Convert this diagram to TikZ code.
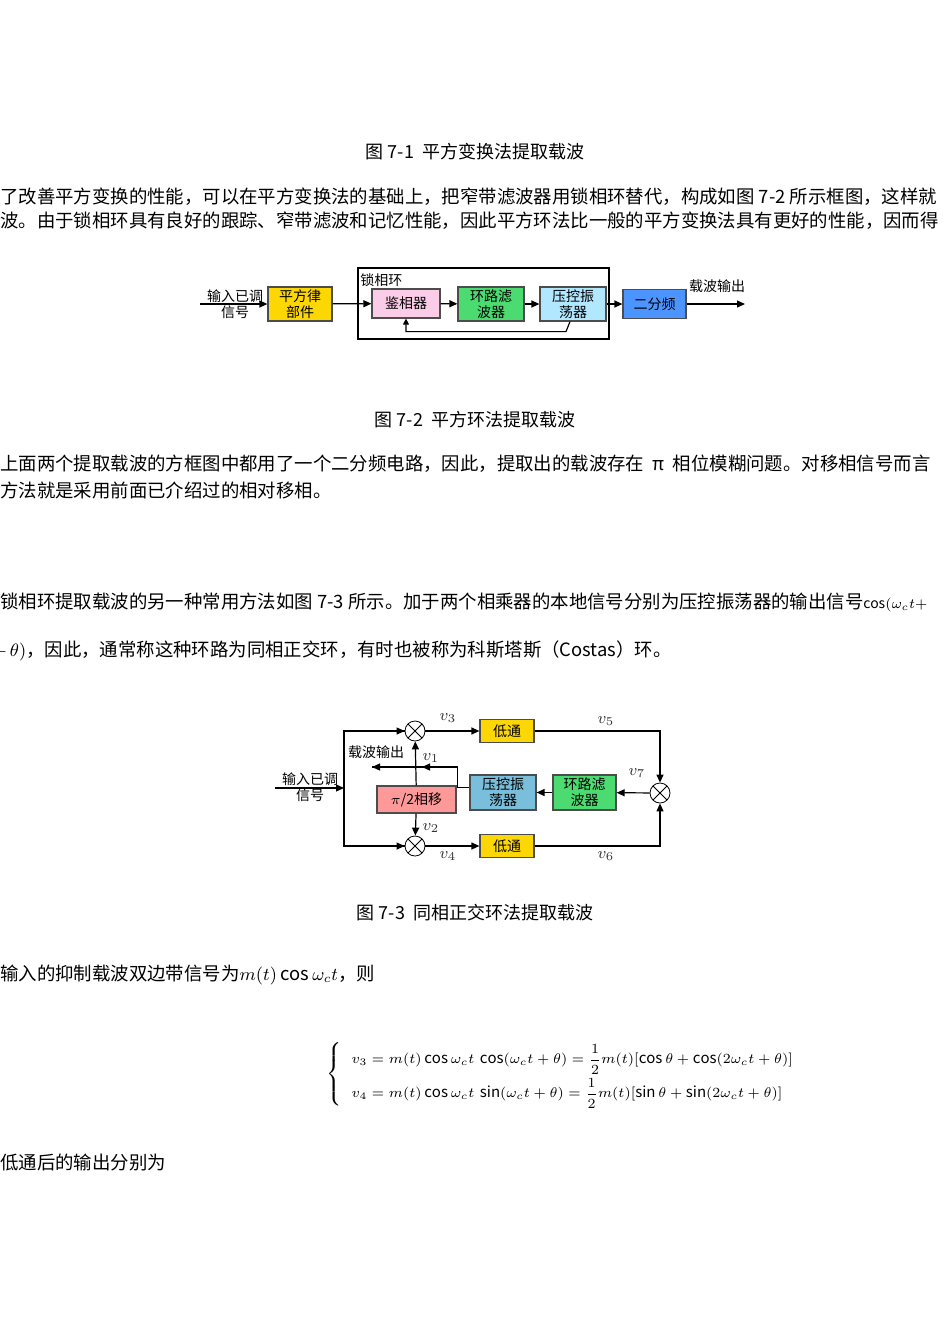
\documentclass[tikz,border=0pt]{standalone}
\usepackage{amsmath}
\usepackage{fontspec}
\setmainfont{Noto Sans CJK SC}
\usetikzlibrary{arrows.meta}
\begin{document}
\begin{tikzpicture}[x=0.5pt,y=-0.5pt,
  txt/.style={font=\fontsize{9.2}{11}\selectfont,anchor=west,inner sep=0},
  captxt/.style={font=\fontsize{9}{11}\selectfont,inner sep=0},
  lbl/.style={font=\fontsize{7}{8}\selectfont,inner sep=0,align=center},
  blk/.style={draw=black!70,line width=0.6pt,font=\fontsize{7}{8}\selectfont,align=center,inner sep=0},
  mul/.style={draw,circle,minimum size=10pt,inner sep=0,path picture={\draw (path picture bounding box.north west)--(path picture bounding box.south east) (path picture bounding box.north east)--(path picture bounding box.south west);}},
  ar/.style={-{Triangle[length=4pt,width=3.5pt]},line width=0.6pt},
  ln/.style={line width=0.6pt},
  vl/.style={font=\fontsize{8.5}{9}\selectfont,inner sep=0,text=black!80}]
\useasboundingbox (0,0) rectangle (950,1344);
\clip (0,0) rectangle (950,1344);
\fill[white] (0,0) rectangle (950,1344);
% text
\node[captxt] (c1) at (475,152) {图 7-1\ \ 平方变换法提取载波};
\node[txt] (p1) at (0,197) {了改善平方变换的性能，可以在平方变换法的基础上，把窄带滤波器用锁相环替代，构成如图 7-2 所示框图，这样就};
\node[txt] (p2) at (0,221) {波。由于锁相环具有良好的跟踪、窄带滤波和记忆性能，因此平方环法比一般的平方变换法具有更好的性能，因而得};
\node[captxt] (c2) at (475,420) {图 7-2\ \ 平方环法提取载波};
\node[txt] (p3) at (0,464) {上面两个提取载波的方框图中都用了一个二分频电路，因此，提取出的载波存在\ \ π\ \ 相位模糊问题。对移相信号而言};
\node[txt] (p4) at (0,490) {方法就是采用前面已介绍过的相对移相。};
\node[txt] (p5) at (0,602) {锁相环提取载波的另一种常用方法如图 7-3 所示。加于两个相乘器的本地信号分别为压控振荡器的输出信号{\fontsize{7}{8}\selectfont cos$(\omega_c t +$}};
\node[txt] (p6) at (-8,651) {$+\,\theta)$，因此，通常称这种环路为同相正交环，有时也被称为科斯塔斯（Costas）环。};
\node[captxt] (c3) at (475,913) {图 7-3\ \ 同相正交环法提取载波};
\node[txt] (p7) at (0,975) {输入的抑制载波双边带信号为$m(t)\cos\omega_c t$，则};
\node[txt] (p8) at (0,1162) {低通后的输出分别为};
\node[anchor=west,inner sep=0,font=\fontsize{7.5}{9}\selectfont] (eq) at (326,1074) {$\left\{\renewcommand{\arraystretch}{1.9}\begin{array}{l}
v_3=m(t)\cos\omega_c t\,\cos(\omega_c t+\theta)=\dfrac12 m(t)[\cos\theta+\cos(2\omega_c t+\theta)]\\
v_4=m(t)\cos\omega_c t\,\sin(\omega_c t+\theta)=\dfrac12 m(t)[\sin\theta+\sin(2\omega_c t+\theta)]
\end{array}\right.$};
% diagram 1
\draw[ln] (358,268) rectangle (609,339);
\node[lbl,anchor=west] (pll) at (360,280) {锁相环};
\node[blk,fill=yellow!75!orange,minimum width=32pt,minimum height=17pt] (sq) at (300,304) {平方律\\部件};
\node[blk,fill=magenta!20,minimum width=34pt,minimum height=14.5pt] (pd) at (406,303.5) {鉴相器};
\node[blk,fill=green!60!teal!70,minimum width=33pt,minimum height=17pt] (lf) at (491,304) {环路滤\\波器};
\node[blk,fill=blue!30!cyan!30,minimum width=33pt,minimum height=17pt] (vco) at (573,304) {压控振\\荡器};
\node[blk,fill=blue!60!cyan!70,minimum width=31.5pt,minimum height=14.5pt] (div) at (654.5,304) {二分频};
\node[lbl] (in1) at (235,304) {输入已调\\信号};
\node[lbl] (out1) at (717,286) {载波输出};
\coordinate (s1) at (200,304);
\coordinate (e1) at (745,304);
\draw[ar] (s1) -- (sq);
\draw[ar] (sq) -- (pd);
\draw[ar] (pd) -- (lf);
\draw[ar] (lf) -- (vco);
\draw[ar] (vco) -- (div);
\draw[ar] (div) -- (e1);
\draw[ln,-{Triangle[length=3pt,width=3pt]}] (vco.south) ++(-3,0) -- ++(-4,10) -| (pd.south);
% diagram 2
\node[mul] (m1) at (415,731) {};
\node[mul] (m2) at (415,846) {};
\node[mul] (m3) at (660,793) {};
\node[blk,fill=yellow!75!orange,minimum width=27pt,minimum height=11.5pt] (lp1) at (507,731) {低通};
\node[blk,fill=yellow!75!orange,minimum width=27pt,minimum height=11.5pt] (lp2) at (507,846) {低通};
\node[blk,fill=green!60!teal!70,minimum width=31.5pt,minimum height=17.5pt] (lf2) at (584.5,792.5) {环路滤\\波器};
\node[blk,fill=cyan!55!teal!60,minimum width=33pt,minimum height=17.5pt] (vco2) at (503,792.5) {压控振\\荡器};
\node[blk,fill=red!40,minimum width=39.5pt,minimum height=13.5pt] (ps) at (416.5,799.5) {$\pi$/2相移};
\node[lbl] (in2) at (310,787) {输入已调\\信号};
\node[lbl] (out2) at (376,752) {载波输出};
\node[vl] at (448,718) {$v_3$};
\node[vl] at (606,721) {$v_5$};
\node[vl] at (448,856) {$v_4$};
\node[vl] at (606,856) {$v_6$};
\node[vl] at (637,773) {$v_7$};
\node[vl] at (431,758) {$v_1$};
\node[vl] at (431,828) {$v_2$};
\coordinate (s2) at (275,788);
\coordinate (j) at (344,788);
\coordinate (o2) at (372,767);
\draw[ar] (s2) -- (j);
\draw[ln] (j) |- (m1.west);
\draw[ar] (344,731) -- (m1);
\draw[ln] (j) |- (m2.west);
\draw[ar] (344,846) -- (m2);
\draw[ar] (m1) -- (lp1);
\draw[ar] (m2) -- (lp2);
\draw[ar] (lp1) -| (m3);
\draw[ar] (lp2) -| (m3);
\draw[ar] (m3) -- (lf2);
\draw[ar] (lf2) -- (vco2);
\draw[ar] (ps) -- (m1);
\draw[ar] (ps) -- (m2);
\draw[ln] (vco2.west) ++(0,-5) -- ++(-12,0) |- (o2);
\draw[ar] (458,767) -- (422,767);
\draw[ar] (390,767) -- (o2);
\end{tikzpicture}
\end{document}
